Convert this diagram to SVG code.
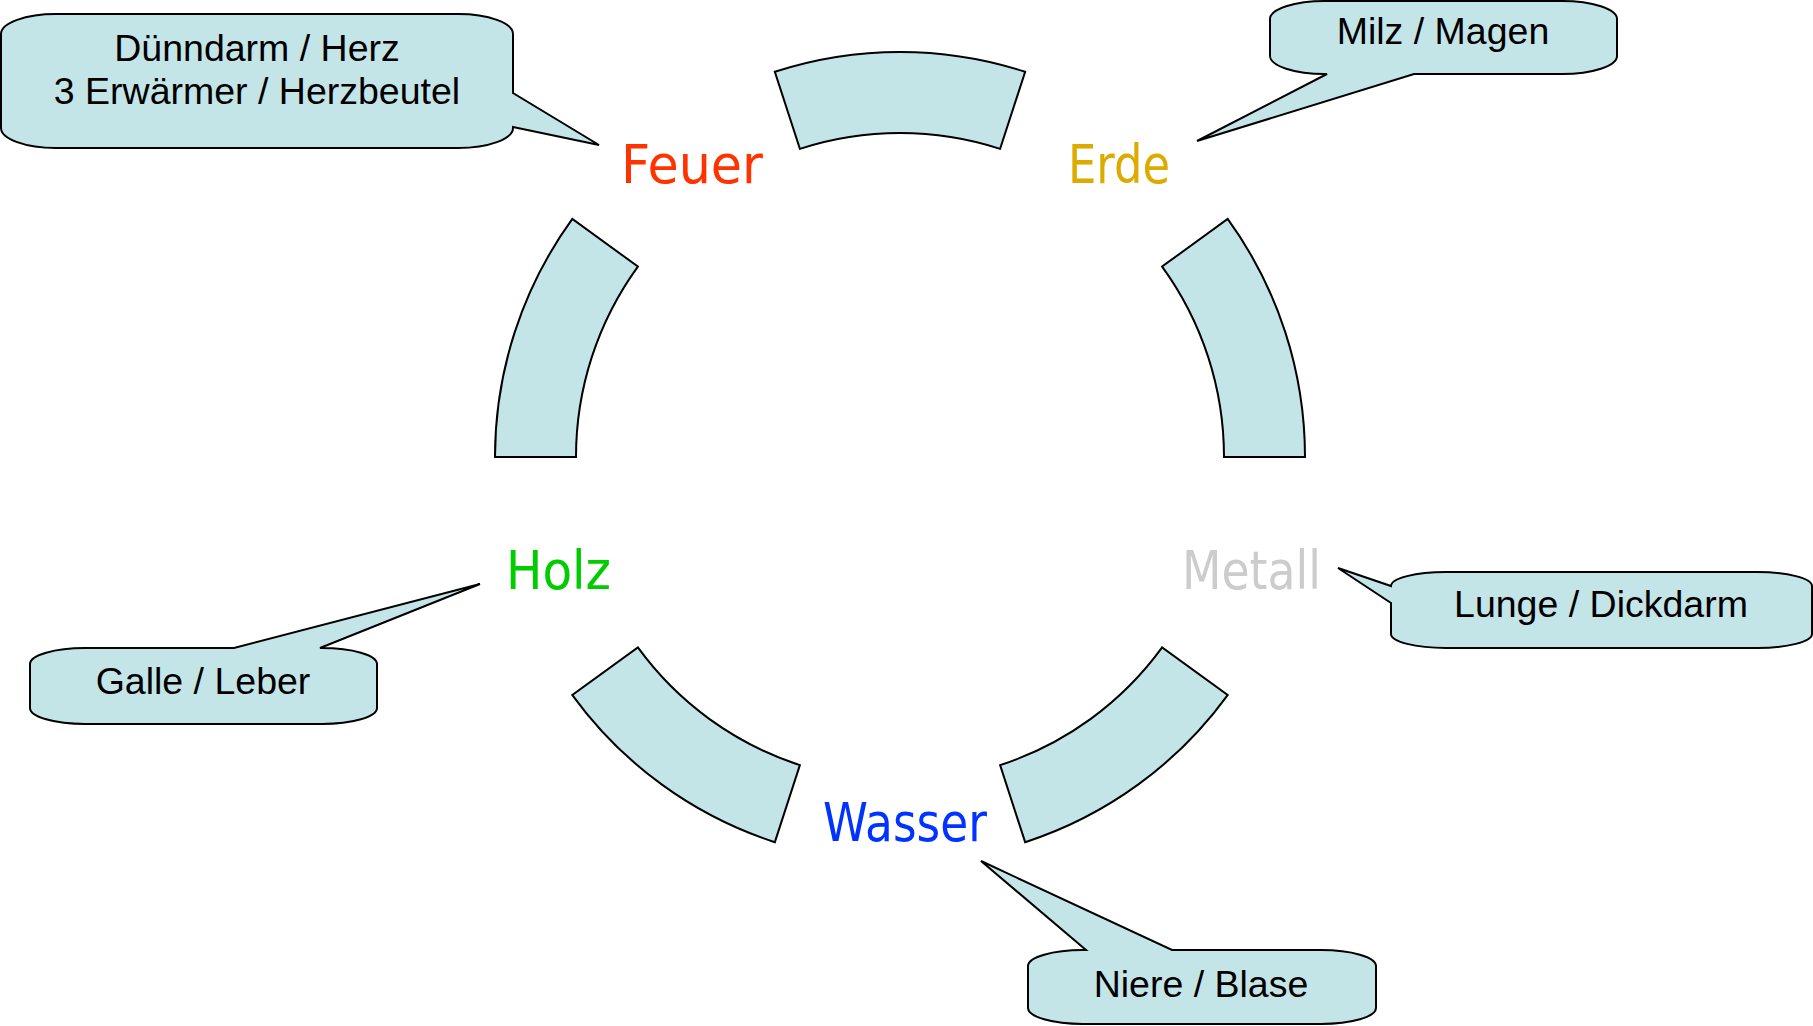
<svg xmlns="http://www.w3.org/2000/svg" width="1813" height="1026" viewBox="0 0 1813 1026">
<style>
.seg{fill:#C4E5E8;stroke:#000;stroke-width:2;stroke-linejoin:miter}
.call{fill:#C4E5E8;stroke:#000;stroke-width:2;stroke-linejoin:miter}
.ct{font-family:"Liberation Sans",Arial,sans-serif;font-size:37.5px;fill:#000;text-anchor:middle}
.el{font-family:"DejaVu Sans",sans-serif;font-size:54px}
</style>
<rect width="1813" height="1026" fill="#fff"/>
<g id="connectors">
<path class="seg" d="M 774.85 71.82 A 405 405 0 0 1 1025.15 71.82 L 1000.12 148.86 A 324 324 0 0 0 799.88 148.86 Z"/>
<path class="seg" d="M 1227.65 218.95 A 405 405 0 0 1 1305 457 L 1224 457 A 324 324 0 0 0 1162.12 266.56 Z"/>
<path class="seg" d="M 1227.65 695.05 A 405 405 0 0 1 1025.15 842.18 L 1000.12 765.14 A 324 324 0 0 0 1162.12 647.44 Z"/>
<path class="seg" d="M 774.85 842.18 A 405 405 0 0 1 572.35 695.05 L 637.88 647.44 A 324 324 0 0 0 799.88 765.14 Z"/>
<path class="seg" d="M 495 457 A 405 405 0 0 1 572.35 218.95 L 637.88 266.56 A 324 324 0 0 0 576 457 Z"/>
</g>
<g id="feuer">
<text class="el" x="621" y="183" fill="#FF3300" textLength="142" lengthAdjust="spacingAndGlyphs">Feuer</text>
</g>
<g id="erde">
<text class="el" x="1068" y="183" fill="#DDAA00" textLength="102" lengthAdjust="spacingAndGlyphs">Erde</text>
</g>
<g id="metall">
<text class="el" x="1182" y="589" fill="#CCCCCC" textLength="139" lengthAdjust="spacingAndGlyphs">Metall</text>
</g>
<g id="wasser">
<text class="el" x="823" y="841" fill="#0033FF" textLength="164" lengthAdjust="spacingAndGlyphs">Wasser</text>
</g>
<g id="holz">
<text class="el" x="506" y="589" fill="#00CC00" textLength="105" lengthAdjust="spacingAndGlyphs">Holz</text>
</g>
<g id="callout-feuer">
<path class="call" d="M 56 14 L 458 14 A 55 20 0 0 1 513 34 L 513 93 L 599 145 L 513 127 L 513 128 A 55 20 0 0 1 458 148 L 56 148 A 55 20 0 0 1 1 128 L 1 34 A 55 20 0 0 1 56 14 Z"/>
<text class="ct" x="257" y="61">Dünndarm / Herz</text>
<text class="ct" x="257" y="104">3 Erwärmer / Herzbeutel</text>
</g>
<g id="callout-erde">
<path class="call" d="M 1325 1 L 1562 1 A 55 18 0 0 1 1617 19 L 1617 56 A 55 18 0 0 1 1562 74 L 1414 74 L 1197 141 L 1327 74 L 1325 74 A 55 18 0 0 1 1270 56 L 1270 19 A 55 18 0 0 1 1325 1 Z"/>
<text class="ct" x="1443" y="44">Milz / Magen</text>
</g>
<g id="callout-metall">
<path class="call" d="M 1391 603 L 1338 568 L 1391 586 A 55 14 0 0 1 1446 572 L 1757 572 A 55 14 0 0 1 1812 586 L 1812 634 A 55 14 0 0 1 1757 648 L 1446 648 A 55 14 0 0 1 1391 634 Z"/>
<text class="ct" x="1601" y="617">Lunge / Dickdarm</text>
</g>
<g id="callout-holz">
<path class="call" d="M 85 648 L 234 648 L 480 584 L 320 648 L 322 648 A 55 16 0 0 1 377 664 L 377 708 A 55 16 0 0 1 322 724 L 85 724 A 55 16 0 0 1 30 708 L 30 664 A 55 16 0 0 1 85 648 Z"/>
<text class="ct" x="203" y="694">Galle / Leber</text>
</g>
<g id="callout-wasser">
<path class="call" d="M 1083 950 L 1086 950 L 981 861 L 1172 950 L 1321 950 A 55 16 0 0 1 1376 966 L 1376 1008 A 55 16 0 0 1 1321 1024 L 1083 1024 A 55 16 0 0 1 1028 1008 L 1028 966 A 55 16 0 0 1 1083 950 Z"/>
<text class="ct" x="1201" y="997">Niere / Blase</text>
</g>
</svg>
